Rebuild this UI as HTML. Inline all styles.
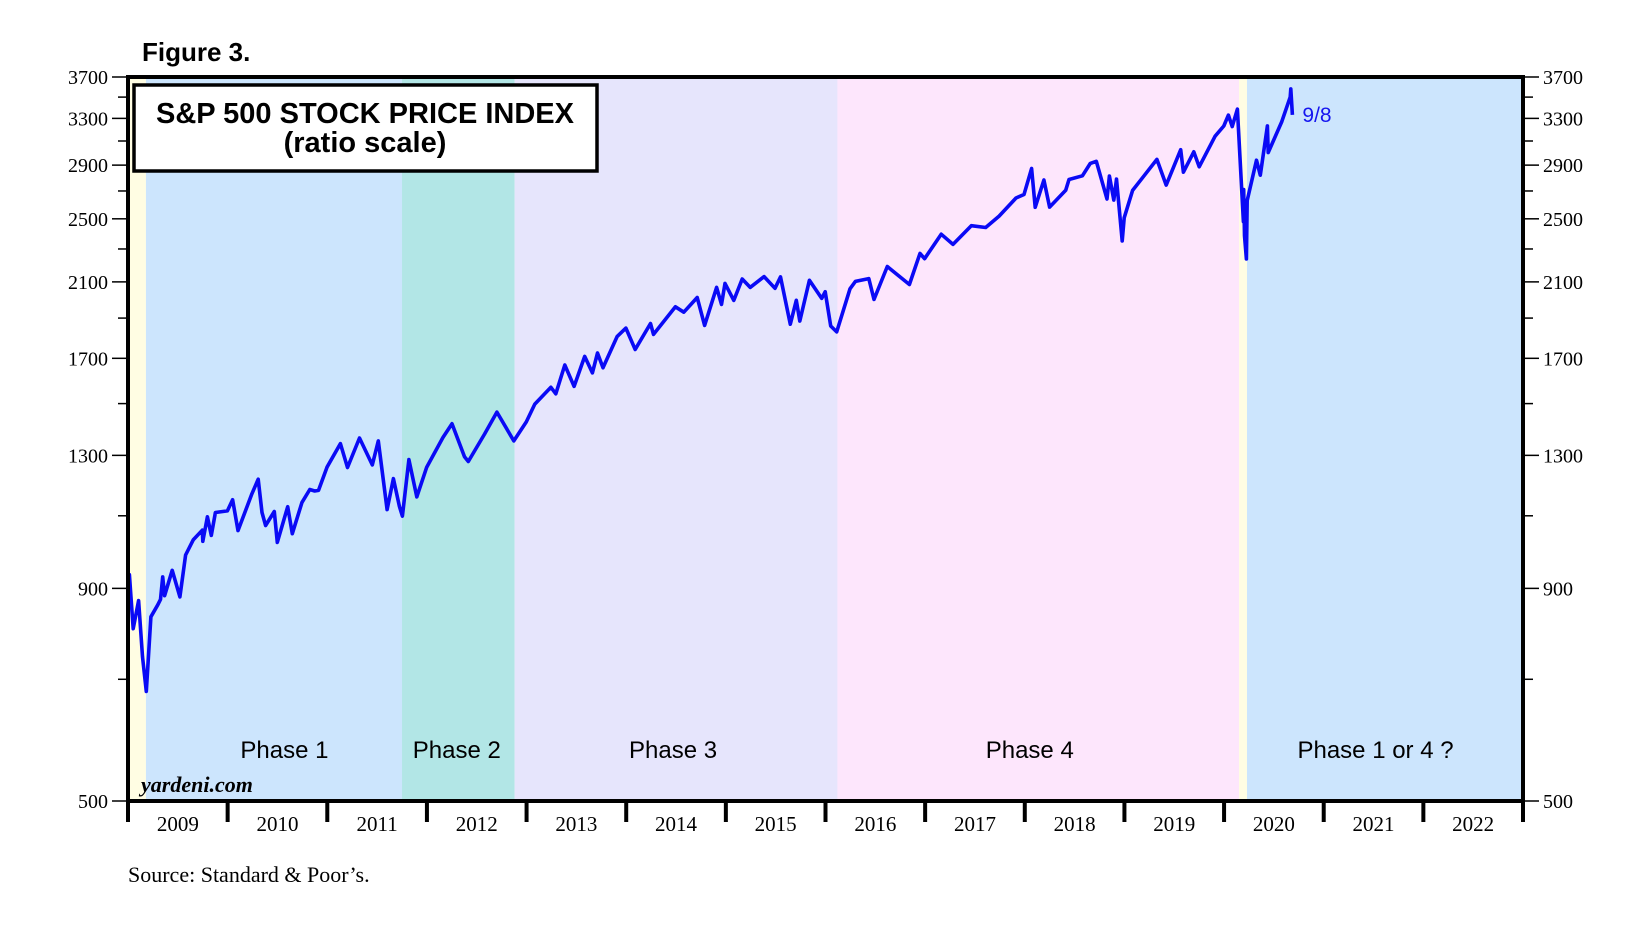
<!DOCTYPE html>
<html>
<head>
<meta charset="utf-8">
<style>
html,body{margin:0;padding:0;background:#fff;}
svg{display:block;}
</style>
</head>
<body>
<svg id="chart" width="1628" height="931" viewBox="0 0 1628 931" xmlns="http://www.w3.org/2000/svg">
  <g id="bands"></g>
  <g id="line"></g>
  <g id="axes"></g>
  <text x="142" y="61" font-family="Liberation Sans, sans-serif" font-weight="bold" font-size="26">Figure 3.</text>
  <rect x="134" y="85" width="463" height="86" fill="#fff" stroke="#000" stroke-width="3.5"/>
  <text x="365" y="123" text-anchor="middle" font-family="Liberation Sans, sans-serif" font-weight="bold" font-size="29">S&amp;P 500 STOCK PRICE INDEX</text>
  <text x="365" y="152" text-anchor="middle" font-family="Liberation Sans, sans-serif" font-weight="bold" font-size="29">(ratio scale)</text>
  <text x="141" y="792" font-family="Liberation Serif, serif" font-style="italic" font-weight="bold" font-size="22">yardeni.com</text>
  <text x="128" y="882" font-family="Liberation Serif, serif" font-size="22">Source: Standard &amp; Poor’s.</text>
</svg>
<script>
const dates = ["2009-01-02","2009-01-06","2009-01-20","2009-02-09","2009-02-23","2009-03-09","2009-03-26","2009-04-20","2009-04-30","2009-05-08","2009-05-15","2009-06-12","2009-07-10","2009-07-31","2009-08-28","2009-09-30","2009-10-02","2009-10-19","2009-11-02","2009-11-17","2009-12-31",
"2010-01-19","2010-02-08","2010-03-31","2010-04-23","2010-05-07","2010-05-20","2010-06-21","2010-07-02","2010-08-09","2010-08-26","2010-09-30","2010-10-29","2010-11-16","2010-11-30","2010-12-31",
"2011-02-18","2011-03-16","2011-04-29","2011-06-15","2011-07-07","2011-08-08","2011-08-31","2011-09-22","2011-10-03","2011-10-27","2011-11-25","2011-12-31",
"2012-02-29","2012-04-02","2012-05-18","2012-06-01","2012-07-31","2012-09-14","2012-11-15","2012-12-31",
"2013-01-31","2013-03-31","2013-04-18","2013-05-21","2013-06-24","2013-08-02","2013-08-30","2013-09-18","2013-10-08","2013-11-29","2013-12-31",
"2014-02-03","2014-03-31","2014-04-11","2014-06-30","2014-07-31","2014-09-18","2014-10-15","2014-11-28","2014-12-16","2014-12-29",
"2015-01-30","2015-03-02","2015-03-31","2015-05-21","2015-06-30","2015-07-20","2015-08-25","2015-09-16","2015-09-29","2015-11-03","2015-12-18","2015-12-31",
"2016-01-20","2016-02-11","2016-03-31","2016-04-20","2016-06-08","2016-06-27","2016-08-15","2016-11-04","2016-12-13","2016-12-30",
"2017-03-01","2017-04-13","2017-06-19","2017-08-11","2017-09-29","2017-11-30","2017-12-29",
"2018-01-26","2018-02-08","2018-03-12","2018-04-02","2018-05-31","2018-06-12","2018-07-31","2018-08-29","2018-09-20","2018-10-29","2018-11-07","2018-11-23","2018-12-03","2018-12-24","2018-12-31",
"2019-01-31","2019-04-30","2019-06-03","2019-07-26","2019-08-05","2019-09-12","2019-10-02","2019-11-29","2019-12-31",
"2020-01-17","2020-01-31","2020-02-19","2020-03-12","2020-03-13","2020-03-16","2020-03-23","2020-03-26","2020-04-29","2020-05-13","2020-06-08","2020-06-11","2020-07-31","2020-08-31","2020-09-02","2020-09-08"];
const values = [931,935,805,870,745,677,832,860,873,929,882,946,879,987,1029,1057,1025,1097,1042,1110,1115,
1150,1056,1169,1217,1110,1071,1113,1022,1128,1047,1141,1183,1178,1180,1258,
1343,1257,1364,1266,1353,1119,1219,1129,1099,1285,1159,1258,
1366,1419,1295,1278,1379,1465,1353,1426,
1498,1569,1541,1669,1573,1709,1633,1725,1656,1806,1848,
1742,1872,1816,1960,1931,2011,1862,2068,1973,2091,
1995,2117,2068,2131,2063,2129,1868,1996,1884,2109,2006,2044,
1859,1829,2060,2103,2119,2001,2191,2085,2272,2239,
2396,2329,2453,2441,2519,2648,2674,
2873,2581,2783,2582,2705,2787,2816,2914,2931,2641,2814,2633,2790,2351,2507,
2704,2946,2744,3026,2844,3009,2887,3141,3231,
3330,3226,3386,2481,2711,2386,2237,2630,2940,2820,3232,3002,3271,3500,3580,3332];
const yearLabels = ["2009","2010","2011","2012","2013","2014","2015","2016","2017","2018","2019","2020","2021","2022"];
const yTicks = [500,700,900,1100,1300,1500,1700,1900,2100,2300,2500,2700,2900,3100,3300,3500,3700];
const yLabels = [500,900,1300,1700,2100,2500,2900,3300,3700];
const bandStarts = [2009.0,2009.18,2011.75,2012.88,2016.12,2020.15,2020.23];
const bandEnds   = [2009.18,2011.75,2012.88,2016.12,2020.15,2020.23,2023.0];
const bandColors = ["#fffde3","#cce5fd","#b2e6e6","#e6e5fc","#fde6fc","#fffde3","#cce5fd"];
const phaseNames = ["Phase 1","Phase 2","Phase 3","Phase 4","Phase 1 or 4 ?"];
const phaseCenters = [2010.57,2012.3,2014.47,2018.05,2021.52];

const L=128,R=1523,T=77,B=801,X0=2009,X1=2023,YMIN=500,YMAX=3700;
const xs=t=>L+(t-X0)/(X1-X0)*(R-L);
const ys=v=>B-Math.log(v/YMIN)/Math.log(YMAX/YMIN)*(B-T);
const toYear=s=>{const p=s.split('-').map(Number);const d0=Date.UTC(p[0],0,1),d1=Date.UTC(p[0]+1,0,1);return p[0]+(Date.UTC(p[0],p[1]-1,p[2])-d0)/(d1-d0);};
const NS="http://www.w3.org/2000/svg";
function mk(tag,parent){const e=document.createElementNS(NS,tag);parent.appendChild(e);return e;}
const bands=document.getElementById('bands'),lineG=document.getElementById('line'),axes=document.getElementById('axes');

for(let i=0;i<bandStarts.length;i++){
  const r=mk('rect',bands);
  
  
  r.setAttribute('x',xs(bandStarts[i]));r.setAttribute('y',T);
  r.setAttribute('width',xs(bandEnds[i])-xs(bandStarts[i]));r.setAttribute('height',B-T);
  r.setAttribute('fill',bandColors[i]);
}
for(let i=0;i<phaseNames.length;i++){
  const t=mk('text',bands);
  
  
  t.setAttribute('x',xs(phaseCenters[i]));t.setAttribute('y',758);
  t.setAttribute('text-anchor','middle');t.setAttribute('font-family','Liberation Sans, sans-serif');t.setAttribute('font-size','24');
  t.textContent=phaseNames[i];
}
let d='';
for(let i=0;i<dates.length;i++){d+=(i?'L':'M')+xs(toYear(dates[i])).toFixed(1)+','+ys(values[i]).toFixed(1);}
const path=mk('path',lineG);


path.setAttribute('d',d);path.setAttribute('fill','none');path.setAttribute('stroke','#0a0af5');
path.setAttribute('stroke-width','3.6');path.setAttribute('stroke-linejoin','round');
const lastX=xs(toYear(dates[dates.length-1]));
const lbl=mk('text',lineG);


lbl.setAttribute('x',lastX+10);lbl.setAttribute('y',122);lbl.setAttribute('fill','#1515f0');
lbl.setAttribute('font-family','Liberation Sans, sans-serif');lbl.setAttribute('font-size','21');
lbl.textContent='9/8';

const fr=mk('rect',axes);


fr.setAttribute('x',L);fr.setAttribute('y',T);fr.setAttribute('width',R-L);fr.setAttribute('height',B-T);
fr.setAttribute('fill','none');fr.setAttribute('stroke','#000');fr.setAttribute('stroke-width','4');
for(const v of yTicks){
  const y=ys(v),major=yLabels.includes(v),len=major?14:8;
  for(const side of [0,1]){
    const ln=mk('line',axes);
    
    
    const x0=side?R+2:L-2,x1=side?R+2+len:L-2-len;
    ln.setAttribute('x1',x0);ln.setAttribute('x2',x1);ln.setAttribute('y1',y);ln.setAttribute('y2',y);
    ln.setAttribute('stroke','#000');ln.setAttribute('stroke-width','1.5');
  }
}
for(const v of yLabels){
  const y=ys(v);
  const tl=mk('text',axes);
  
  
  tl.setAttribute('x',L-20);tl.setAttribute('y',y+7);tl.setAttribute('text-anchor','end');
  tl.setAttribute('font-family','Liberation Serif, serif');tl.setAttribute('font-size','20');tl.textContent=v;
  const tr=mk('text',axes);
  
  
  tr.setAttribute('x',R+20);tr.setAttribute('y',y+7);
  tr.setAttribute('font-family','Liberation Serif, serif');tr.setAttribute('font-size','20');tr.textContent=v;
}
for(let i=0;i<=yearLabels.length;i++){
  const x=xs(X0+i);
  const tk=mk('line',axes);
  
  
  tk.setAttribute('x1',x);tk.setAttribute('x2',x);tk.setAttribute('y1',B);tk.setAttribute('y2',B+21);
  tk.setAttribute('stroke','#000');tk.setAttribute('stroke-width','4');
  if(i<yearLabels.length){
    const t=mk('text',axes);
    
    
    t.setAttribute('x',xs(X0+i+0.5));t.setAttribute('y',831);t.setAttribute('text-anchor','middle');
    t.setAttribute('font-family','Liberation Serif, serif');t.setAttribute('font-size','21');t.textContent=yearLabels[i];
  }
}
</script>
</body>
</html>
